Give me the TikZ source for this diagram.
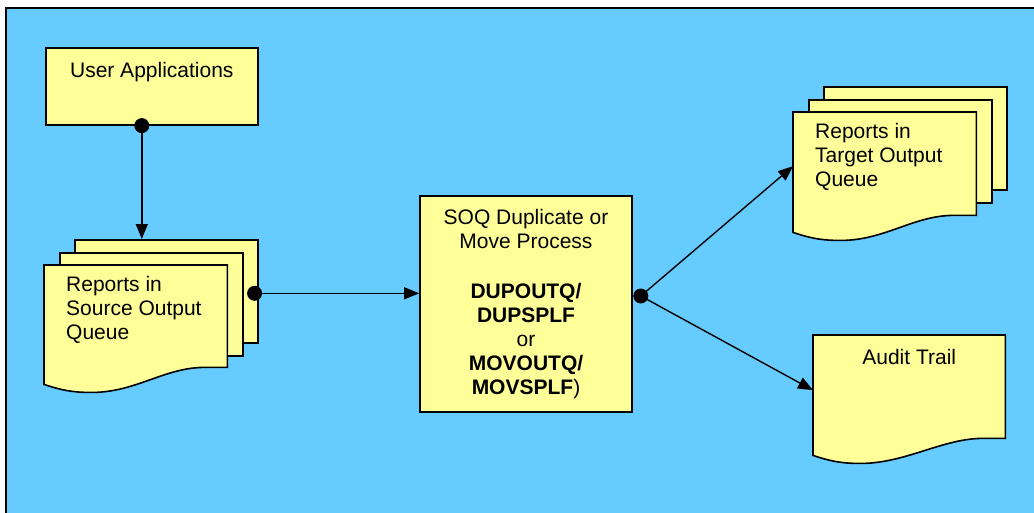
\documentclass[tikz,border=0pt]{standalone}
\usepackage{fontspec}
\setmainfont{Liberation Sans}
\usetikzlibrary{arrows.meta, positioning, calc}
\definecolor{sky}{HTML}{66CCFF}
\definecolor{paper}{HTML}{FFFF99}
% printed page with a wavy lower edge, drawn round an empty node
\newcommand\wavedoc[1]{%
  \filldraw[sheet] (#1.north west) -- (#1.north east) -- ($(#1.south east)+(0,-17)$)
    -- ($(#1.south east)+(-25,-17)$)
    .. controls ($(#1.south east)+(-65,-16)$) and ($(#1.south west)+(90,9)$) .. ($(#1.south west)+(45,8)$)
    .. controls ($(#1.south west)+(25,8)$) and ($(#1.south west)+(12,4)$) .. (#1.south west) -- cycle;}

\begin{document}
\begin{tikzpicture}[x=1pt, y=-1pt,
    sheet/.style = {draw, fill = paper, line width = 1.6pt},
    flow/.style = {-{Triangle[length = 15pt, width = 12pt]}, line width = 1.4pt},
    dot/.style = {circle, fill, inner sep = 0pt, minimum size = 15pt},
    note/.style = {font = \fontsize{21}{24}\selectfont, inner sep = 0pt},
    pagebox/.style = {rectangle, inner sep = 0pt, minimum width = 183pt, minimum height = #1, anchor = north west},
    backpage/.style = {sheet, rectangle, inner sep = 0pt, minimum width = 183pt, minimum height = 103pt, anchor = north west}]
  \clip (0,0) rectangle (1034,512);
  \fill[white] (0,0) rectangle (1034,512);
  \filldraw[fill = sky, draw = black, line width = 1.6pt] (6,8) rectangle (1050,530);

  % user applications
  \node[sheet, note, minimum width = 212pt, text height = 30pt, text depth = 47pt, anchor = north west] (apps) at (45,47) {User Applications};

  % source output queue
  \node[pagebox = 119pt] (srcq) at (44,265) {};
  \node[backpage] (srcq3) at ($(srcq.north west)+(30,-26)$) {};
  \node[backpage] (srcq2) at ($(srcq.north west)+(15,-13)$) {};
  \wavedoc{srcq}
  \node[note, align = left, below right = 11pt and 22pt of srcq.north west] (srctext) {Reports in\\Source Output\\Queue};

  % duplicate / move process
  \node[sheet, note, align = center, minimum width = 212pt, minimum height = 216pt] (soq) at (526,304)
    {SOQ Duplicate or\\Move Process\\[26pt]\textbf{DUPOUTQ/}\\\textbf{DUPSPLF}\\or\\\textbf{MOVOUTQ/}\\\textbf{MOVSPLF})};

  % target output queue
  \node[pagebox = 120pt] (tgtq) at (793,112) {};
  \node[backpage] (tgtq3) at ($(tgtq.north west)+(30,-26)$) {};
  \node[backpage] (tgtq2) at ($(tgtq.north west)+(15,-13)$) {};
  \wavedoc{tgtq}
  \node[note, align = left, below right = 11pt and 22pt of tgtq.north west] (tgttext) {Reports in\\Target Output\\Queue};

  % audit trail
  \node[pagebox = 120pt, minimum width = 192pt] (audit) at (813,335) {};
  \wavedoc{audit}
  \node[note, below = 14pt of audit.north] (audittext) {Audit Trail};

  % connectors
  \node[dot] (appsdot) at ([xshift = -10pt]apps.south) {};
  \draw[flow] (appsdot.center) -- (appsdot.center |- srcq3.north);
  \node[dot] (srcdot) at ([xshift = -4pt, yshift = -2pt]srcq3.east) {};
  \draw[flow] (srcdot.center) -- (srcdot.center -| soq.west);
  \node[dot] (soqdot) at ([xshift = 8pt, yshift = 8pt]soq.east) {};
  \draw[flow] (soqdot.center) -- ([yshift = 6pt]tgtq.west);
  \draw[flow] (soqdot.center) -- ([yshift = 5pt]audit.west);
\end{tikzpicture}
\end{document}
